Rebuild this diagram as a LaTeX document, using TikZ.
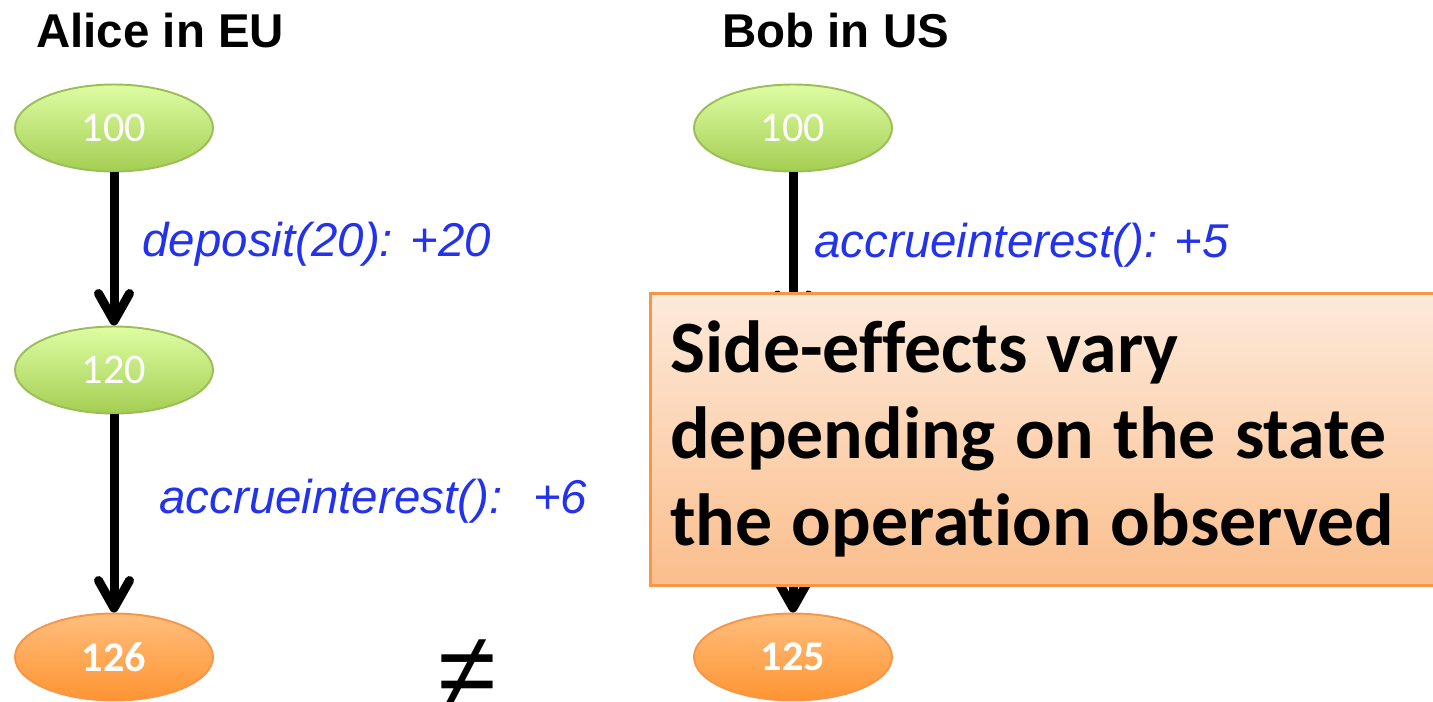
\documentclass[tikz,border=0pt]{standalone}
\usepackage{fontspec}
\setmainfont{Liberation Sans}
\newfontfamily\calibri[Ligatures=NoCommon]{Carlito}
\usetikzlibrary{arrows.meta,positioning,shapes.geometric}

\definecolor{greentop}{RGB}{222,253,163}
\definecolor{greenbot}{RGB}{164,206,82}
\definecolor{greenline}{RGB}{155,190,90}
\definecolor{orangetop}{RGB}{255,190,125}
\definecolor{orangebot}{RGB}{255,148,50}
\definecolor{orangeline}{RGB}{247,150,70}
\definecolor{notetop}{RGB}{253,234,218}
\definecolor{notebot}{RGB}{251,190,140}
\definecolor{opblue}{RGB}{35,50,235}

\tikzset{
  balance/.style={ellipse, line width=1.1pt, minimum width=3.96cm,
    minimum height=1.74cm, inner sep=0pt, text=white},
  greenstate/.style={balance, draw=greenline, top color=greentop,
    bottom color=greenbot, font=\calibri\fontsize{24}{28}\selectfont},
  orangestate/.style={balance, draw=orangeline, top color=orangetop,
    bottom color=orangebot, font=\calibri\bfseries\fontsize{24}{28}\selectfont},
  title/.style={anchor=base west, inner sep=0pt,
    font=\bfseries\fontsize{27}{32}\selectfont},
  oplabel/.style={anchor=west, inner sep=0pt, text=opblue,
    font=\itshape\fontsize{27}{32}\selectfont},
  notebox/.style={draw=orangeline, line width=1.7pt, top color=notetop,
    bottom color=notebot},
  notetext/.style={anchor=base west, inner sep=0pt, align=left,
    text width=15cm, font=\calibri\bfseries\fontsize{42}{49.5}\selectfont}
}

\begin{document}
\begin{tikzpicture}[on grid,node distance=4.84cm,
    >={Straight Barb[round,length=0.55cm,width=0.62cm]}]
  \useasboundingbox (0,0) rectangle (28.66,-14.02);

  \node[title] (alice) at (0.72,-0.94) {Alice in EU};
  \node[title] (bob) at (14.44,-0.94) {Bob in US};

  % Alice's replica
  \node[greenstate] (a_0) at (2.28,-2.56) {100};
  \node[greenstate] (a_1) [below=of a_0] {120};
  \node[orangestate] (a_2) [below=5.74cm of a_1] {126};

  % Bob's replica, middle state sits under the note
  \node[greenstate] (b_0) [right=13.58cm of a_0] {100};
  \coordinate[below=3.98cm of b_0] (b_1n);
  \coordinate[below=5.70cm of b_0] (b_1s);
  \node[orangestate] (b_2) [right=13.58cm of a_2] {125};

  \path[->,line width=0.18cm]
  (a_0) edge node[oplabel,xshift=0.48cm,yshift=0.1cm] {deposit(20): +20} (a_1)
  (a_1) edge node[oplabel,xshift=0.82cm,yshift=0.24cm] {accrueinterest():~ +6} (a_2)
  (b_0) edge node[oplabel,xshift=0.34cm,yshift=0.1cm] {accrueinterest(): +5} (b_1n)
  (b_1s) edge (b_2);

  \node[font=\fontsize{60}{60}\selectfont] (neq) at (9.34,-13.46) {≠};

  \draw[notebox] (13.0,-5.86) rectangle (29.2,-11.70);
  \node[notetext] (note) at (13.4,-7.44)
    {\spaceskip=0.26em\relax
     Side-effects vary\\depending on the state\\the operation observed};

\end{tikzpicture}
\end{document}
